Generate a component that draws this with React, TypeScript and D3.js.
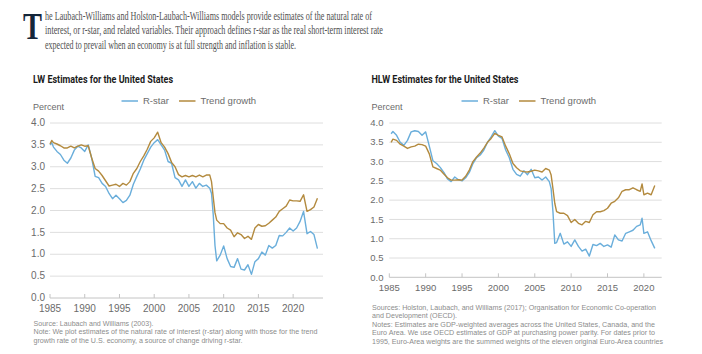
import React, { useEffect, useRef } from "react";
import * as d3 from "d3";

// LW estimates, half-yearly
const lwDates = [
  1985, 1985.25, 1985.5, 1986, 1986.5, 1987, 1987.5, 1988, 1988.5, 1989, 1989.5, 1990, 1990.5,
  1991, 1991.5, 1992, 1992.5, 1993, 1993.5, 1994, 1994.5, 1995, 1995.5, 1996, 1996.5,
  1997, 1997.5, 1998, 1998.5, 1999, 1999.5, 2000, 2000.5, 2001, 2001.5, 2002, 2002.5,
  2003, 2003.5, 2004, 2004.5, 2005, 2005.5, 2006, 2006.5, 2007, 2007.5, 2008, 2008.25,
  2008.5, 2008.75, 2009, 2009.5, 2010, 2010.5, 2011, 2011.5, 2012, 2012.5, 2013, 2013.5,
  2014, 2014.5, 2015, 2015.5, 2016, 2016.5, 2017, 2017.5, 2018, 2018.5, 2019, 2019.5,
  2020, 2020.5, 2021, 2021.5, 2022, 2022.5, 2023, 2023.5
];
const lwRstar = [
  3.5, 3.55, 3.45, 3.35, 3.28, 3.15, 3.08, 3.2, 3.38, 3.47, 3.43, 3.35, 3.5,
  3.2, 2.78, 2.75, 2.62, 2.55, 2.39, 2.27, 2.35, 2.27, 2.18, 2.23, 2.35,
  2.6, 2.78, 2.95, 3.15, 3.3, 3.45, 3.55, 3.62, 3.5, 3.38, 3.12, 3.08,
  2.75, 2.7, 2.55, 2.7, 2.55, 2.66, 2.51, 2.62, 2.55, 2.58, 2.51, 2.39,
  1.9, 1.2, 0.85, 0.98, 1.19, 0.9, 0.72, 0.7, 0.9, 0.66, 0.64, 0.76,
  0.54, 0.83, 0.9, 1.05, 0.98, 1.2, 1.14, 1.2, 1.43, 1.42, 1.5, 1.6,
  1.53, 1.6, 1.75, 1.98, 1.47, 1.52, 1.45, 1.13
];
const lwTrend = [
  3.52, 3.6, 3.55, 3.52, 3.48, 3.43, 3.43, 3.47, 3.43, 3.47, 3.5, 3.47, 3.48,
  3.2, 2.96, 2.9, 2.8, 2.68, 2.56, 2.58, 2.6, 2.55, 2.62, 2.58, 2.66,
  2.85, 2.96, 3.12, 3.25, 3.4, 3.58, 3.66, 3.79, 3.55, 3.45, 3.3, 3.1,
  3.0, 2.82, 2.77, 2.8, 2.77, 2.8, 2.77, 2.81, 2.77, 2.81, 2.81, 2.66,
  2.3, 1.95, 1.78, 1.7, 1.7, 1.6, 1.55, 1.4, 1.49, 1.45, 1.36, 1.41,
  1.34, 1.6, 1.68, 1.64, 1.65, 1.71, 1.78, 1.85, 1.98, 2.04, 2.1, 2.24,
  2.22, 2.22, 2.21, 2.36, 1.98, 2.02, 2.08, 2.28
];

// HLW estimates
const hlwDates = [
  1985.25, 1985.5, 1986, 1986.5, 1987, 1987.5, 1988, 1988.5, 1989, 1989.5, 1990, 1990.5,
  1991, 1991.5, 1992, 1992.5, 1993, 1993.5, 1994, 1994.5, 1995, 1995.5, 1996, 1996.5,
  1997, 1997.5, 1998, 1998.5, 1999, 1999.5, 2000, 2000.5, 2001, 2001.5, 2002, 2002.5,
  2003, 2003.5, 2004, 2004.5, 2005, 2005.5, 2006, 2006.5, 2007, 2007.25, 2007.5, 2007.75,
  2008, 2008.5, 2009, 2009.5, 2010, 2010.5, 2011, 2011.5, 2012, 2012.5, 2013, 2013.5,
  2014, 2014.5, 2015, 2015.5, 2016, 2016.5, 2017, 2017.5, 2018, 2018.5, 2019, 2019.5,
  2019.75, 2020, 2020.5, 2021, 2021.5
];
const hlwRstar = [
  3.72, 3.78, 3.68, 3.5, 3.42, 3.55, 3.77, 3.8, 3.78, 3.68, 3.77, 3.4,
  3.02, 2.95, 2.85, 2.72, 2.55, 2.48, 2.6, 2.53, 2.5, 2.58, 2.72, 2.95,
  3.1, 3.17, 3.3, 3.5, 3.64, 3.8, 3.66, 3.6, 3.3, 3.1, 2.8, 2.67,
  2.62, 2.76, 2.66, 2.8, 2.58, 2.6, 2.52, 2.6, 2.48, 2.3, 1.7, 0.88,
  0.9, 1.14, 0.86, 0.92, 0.8, 0.97, 0.8, 0.68, 0.73, 0.55, 0.85, 0.82,
  0.88, 0.8, 0.84, 0.78, 1.1, 0.97, 0.94, 1.14, 1.18, 1.22, 1.32, 1.36,
  1.53, 1.14, 1.18, 0.95, 0.75
];
const hlwTrend = [
  3.5, 3.58, 3.55, 3.45, 3.4, 3.34, 3.38, 3.4, 3.45, 3.44, 3.4, 3.2,
  2.86, 2.82, 2.78, 2.68, 2.58, 2.52, 2.52, 2.53, 2.52, 2.62, 2.78, 3.0,
  3.12, 3.22, 3.35, 3.5, 3.6, 3.73, 3.68, 3.64, 3.4, 3.2, 2.95, 2.84,
  2.76, 2.74, 2.73, 2.75, 2.78, 2.76, 2.73, 2.82, 2.78, 2.65, 2.3, 1.92,
  1.7, 1.66, 1.66, 1.6, 1.42, 1.5, 1.4, 1.36, 1.45, 1.42, 1.62, 1.7,
  1.7, 1.73, 1.79, 1.92, 1.97, 2.06, 2.23, 2.27, 2.27, 2.32, 2.27, 2.23,
  2.42, 2.14, 2.18, 2.14, 2.38
];

const yTicks = [0, 0.5, 1, 1.5, 2, 2.5, 3, 3.5, 4];
const xTicks = [1985, 1990, 1995, 2000, 2005, 2010, 2015, 2020];
const seriesNames = ["R-star", "Trend growth"];

const introLines = [
  "he Laubach-Williams and Holston-Laubach-Williams models provide estimates of the natural rate of",
  "interest, or r-star, and related variables. Their approach defines r-star as the real short-term interest rate",
  "expected to prevail when an economy is at full strength and inflation is stable."
];
const lwNotes = [
  "Source: Laubach and Williams (2003).",
  "Note: We plot estimates of the natural rate of interest (r-star) along with those for the trend",
  "growth rate of the U.S. economy, a source of change driving r-star."
];
const hlwNotes = [
  "Sources: Holston, Laubach, and Williams (2017); Organisation for Economic Co-operation",
  "and Development (OECD).",
  "Notes: Estimates are GDP-weighted averages across the United States, Canada, and the",
  "Euro Area. We use OECD estimates of GDP at purchasing power parity. For dates prior to",
  "1995, Euro-Area weights are the summed weights of the eleven original Euro-Area countries"
];

const BLUE = "#6aaedb";
const GOLD = "#b38a3e";
const SANS = "'Liberation Sans', Arial, sans-serif";

type Panel = {
  title: string;
  titleWidth: number;
  left: number;
  right: number;
  xEnd: number;
  y0: number;
  y4: number;
  labelX: number;
  fontSize: number;
  legendX: number;
  dates: number[];
  rstar: number[];
  trend: number[];
  notes: string[];
  notesY: number;
  notesWidths: number[];
  xLabelY: number;
};

const panels: Panel[] = [
  {
    title: "LW Estimates for the United States", titleWidth: 140,
    left: 50, right: 323, xEnd: 2024.3, y0: 298, y4: 123, labelX: 45, fontSize: 9,
    legendX: 121.5, dates: lwDates, rstar: lwRstar, trend: lwTrend,
    notes: lwNotes, notesY: 326, notesWidths: [120, 284, 209], xLabelY: 312
  },
  {
    title: "HLW Estimates for the United States", titleWidth: 147,
    left: 389.3, right: 661.7, xEnd: 2022.45, y0: 277.3, y4: 123, labelX: 383.5, fontSize: 8.5,
    legendX: 461.5, dates: hlwDates, rstar: hlwRstar, trend: hlwTrend,
    notes: hlwNotes, notesY: 310, notesWidths: [284, 85, 283, 283, 291], xLabelY: 291
  }
];

function drawPanel(svg: d3.Selection<SVGSVGElement, unknown, null, undefined>, p: Panel) {
  const x = d3.scaleLinear().domain([1985, p.xEnd]).range([p.left, p.right]);
  const y = d3.scaleLinear().domain([0, 4]).range([p.y0, p.y4]);
  const g = svg.append("g");

  g.append("text")
    .attr("x", p.labelX - 12).attr("y", 83)
    .attr("font-family", "Roboto, sans-serif").attr("font-weight", 700)
    .attr("font-size", 10.5).attr("fill", "#1b1b1b")
    .attr("textLength", p.titleWidth).attr("lengthAdjust", "spacingAndGlyphs")
    .text(p.title);

  // legend
  const legend = g.append("g").attr("transform", `translate(${p.legendX},101)`);
  [BLUE, GOLD].forEach((c, i) => {
    const lx = i * 57.5;
    legend.append("line").attr("x1", lx).attr("x2", lx + 16.5).attr("y1", 0).attr("y2", 0)
      .attr("stroke", c).attr("stroke-width", 1.5);
    legend.append("text").attr("x", lx + 21.5).attr("y", 3.3)
      .attr("font-family", SANS).attr("font-size", 9.5).attr("fill", "#6b6b6b")
      .text(seriesNames[i]);
  });

  g.append("text").attr("x", p.labelX - 12).attr("y", 110)
    .attr("font-family", SANS).attr("font-size", 9).attr("fill", "#6b6b6b").text("Percent");

  // grid + y labels
  yTicks.forEach(t => {
    g.append("line").attr("x1", p.left).attr("x2", p.right)
      .attr("y1", y(t)).attr("y2", y(t))
      .attr("stroke", t === 0 ? "#c4c4c4" : "#dedede").attr("stroke-width", 1);
    g.append("text").attr("x", p.labelX).attr("y", y(t) + 3.2)
      .attr("text-anchor", "end").attr("font-family", SANS)
      .attr("font-size", p.fontSize + 1).attr("fill", "#6b6b6b")
      .text(d3.format(".1f")(t));
  });

  // x ticks + labels
  xTicks.forEach(t => {
    g.append("line").attr("x1", x(t)).attr("x2", x(t))
      .attr("y1", p.y0 - 4).attr("y2", p.y0)
      .attr("stroke", "#c4c4c4").attr("stroke-width", 1);
    g.append("text").attr("x", x(t)).attr("y", p.xLabelY)
      .attr("text-anchor", "middle").attr("font-family", SANS)
      .attr("font-size", p.fontSize + 1).attr("fill", "#6b6b6b")
      .text(String(t));
  });

  const line = d3.line<number>()
    .x((d, i) => x(p.dates[i]))
    .y(d => y(d));

  g.append("path").datum(p.rstar).attr("fill", "none")
    .attr("stroke", BLUE).attr("stroke-width", 1.4).attr("stroke-linejoin", "round")
    .attr("d", line);
  g.append("path").datum(p.trend).attr("fill", "none")
    .attr("stroke", GOLD).attr("stroke-width", 1.4).attr("stroke-linejoin", "round")
    .attr("d", line);

  p.notes.forEach((n, i) => {
    g.append("text").attr("x", p.labelX - 11.5).attr("y", p.notesY + i * 8.4)
      .attr("font-family", SANS).attr("font-size", 7.2).attr("fill", "#8c8c8c")
      .attr("textLength", p.notesWidths[i]).attr("lengthAdjust", "spacingAndGlyphs")
      .text(n);
  });
}

export default function App() {
  const ref = useRef<SVGSVGElement>(null);

  useEffect(() => {
    const svg = d3.select(ref.current!);
    svg.selectAll("*").remove();

    svg.append("rect").attr("width", 702).attr("height", 354).attr("fill", "#fff");

    // drop cap + intro
    svg.append("text").attr("x", 23).attr("y", 39)
      .attr("font-family", "'Liberation Serif', serif").attr("font-weight", 700)
      .attr("font-size", 38).attr("fill", "#14263a")
      .attr("textLength", 19).attr("lengthAdjust", "spacingAndGlyphs")
      .text("T");
    const introWidths = [327, 338, 251];
    introLines.forEach((l, i) => {
      svg.append("text").attr("x", 45).attr("y", 20 + i * 14.3)
        .attr("font-family", "'Liberation Serif', serif").attr("font-size", 12)
        .attr("fill", "#505050")
        .attr("textLength", introWidths[i]).attr("lengthAdjust", "spacingAndGlyphs")
        .text(l);
    });

    panels.forEach(p => drawPanel(svg, p));
  }, []);

  return (
    <svg ref={ref} width={702} height={354}
      style={{ position: "absolute", left: 0, top: 0, display: "block" }} />
  );
}
